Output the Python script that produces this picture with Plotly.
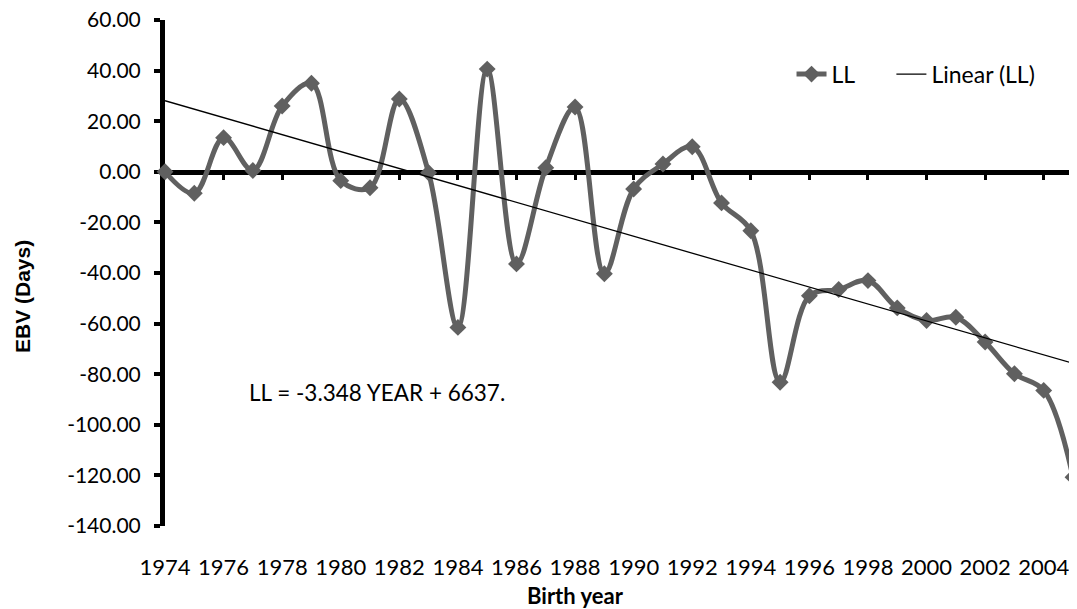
import plotly.graph_objects as go

years = list(range(1974, 2006))
ll_values = [0.0, -8.5, 13.5, 0.5, 26.0, 35.0, -3.5, -6.3, 28.8, -0.4,
             -61.5, 40.6, -36.4, 1.6, 25.6, -40.3, -6.8, 3.1, 9.9, -12.3,
             -23.3, -83.2, -49.0, -46.5, -43.0, -53.8, -58.8, -57.5, -67.3,
             -79.8, -86.4, -120.7]
trend_slope = -3.348
trend_intercept = 6637.05
trend_years = [1974, 2005]
trend_values = [trend_slope * y + trend_intercept for y in trend_years]
x_tick_years = list(range(1974, 2005, 2))
zero_tick_years = list(range(1976, 2005, 2))
y_ticks = list(range(-140, 61, 20))
y_tick_labels = ["%.2f" % v for v in y_ticks]

GRAY = "#606060"
FONT = "Lato"

fig = go.Figure()
fig.add_trace(go.Scatter(
    x=years, y=ll_values, name="LL", mode="lines+markers",
    line=dict(color=GRAY, width=5, shape="spline", smoothing=1),
    marker=dict(symbol="diamond", size=13, color=GRAY),
    cliponaxis=False, legend="legend",
))
fig.add_trace(go.Scatter(
    x=trend_years, y=trend_values, name="Linear (LL)", mode="lines",
    line=dict(color="black", width=1.3), xaxis="x2", yaxis="y",
    cliponaxis=False, legend="legend2",
))

legend_common = dict(orientation="h", y=0.893, xanchor="left", yanchor="middle",
                     font=dict(family=FONT, size=23, color="black"),
                     bgcolor="rgba(0,0,0,0)")

# page body has an 8px default margin, so the figure is 8px smaller than the window
fig.update_layout(
    width=1069, height=601,
    margin=dict(l=157, r=4, t=12, b=83, autoexpand=False),
    plot_bgcolor="white", paper_bgcolor="white",
    font=dict(family=FONT, color="black"),
    xaxis=dict(range=[1974, 2005], tickvals=x_tick_years,
               ticktext=[str(y) for y in x_tick_years],
               showline=False, showgrid=False, zeroline=False, ticks="",
               tickfont=dict(family=FONT, size=22, color="black"),
               ticklabelstandoff=26, automargin=False,
               ticklabeloverflow="allow"),
    xaxis2=dict(range=[1974, 2005], overlaying="x", anchor="free", position=0.7,
                showline=True, linewidth=5, linecolor="black",
                tickvals=zero_tick_years, ticks="outside", ticklen=5, tickwidth=3,
                tickcolor="black", showticklabels=False, showgrid=False,
                zeroline=False, layer="below traces", automargin=False),
    yaxis=dict(range=[-140, 60], tickvals=y_ticks, ticktext=y_tick_labels,
               showline=True, linewidth=5, linecolor="black",
               ticks="outside", ticklen=6, tickwidth=4, tickcolor="black",
               showgrid=False, zeroline=False, layer="below traces",
               tickfont=dict(family=FONT, size=21, color="black"),
               ticklabelstandoff=9, automargin=False,
               ticklabeloverflow="allow"),
    legend=dict(x=0.69, **legend_common),
    legend2=dict(x=0.80, **legend_common),
    showlegend=True,
    annotations=[
        dict(text="<b>EBV (Days)</b>", xref="paper", yref="paper", x=-0.1575, y=0.4545,
             textangle=-90, showarrow=False,
             font=dict(family="Liberation Sans", size=21, color="black"),
             xanchor="center", yanchor="middle"),
        dict(text="<b>Birth year</b>", xref="paper", yref="paper", x=0.4526, y=-0.137,
             showarrow=False, font=dict(family=FONT, size=22, color="black"),
             xanchor="center", yanchor="middle"),
        dict(text="LL = -3.348 YEAR + 6637.", xref="x", yref="y", x=1976.8, y=-87.2,
             showarrow=False, font=dict(family=FONT, size=22.5, color="black"),
             xanchor="left", yanchor="middle"),
    ],
)

fig.write_html("out.html")
